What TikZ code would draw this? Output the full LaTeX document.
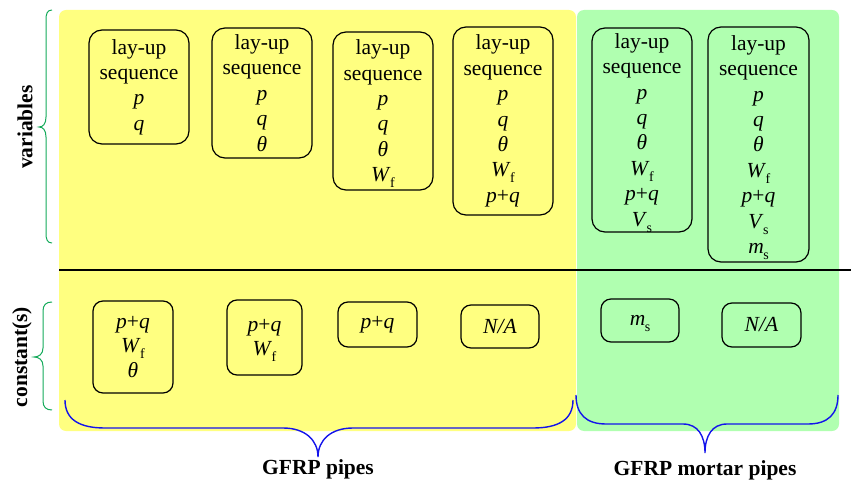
\documentclass[tikz,border=0pt]{standalone}
\usepackage{fontspec}
\setmainfont{Liberation Serif}
\definecolor{yfill}{RGB}{255,255,128}
\definecolor{gfill}{RGB}{176,255,176}
\definecolor{bracegreen}{RGB}{20,170,90}
\definecolor{braceblue}{RGB}{20,20,235}
\newcommand\sbs[2]{\textit{#1}\kern-0.5pt\raisebox{-0.28em}[\height][0pt]{\fontsize{14}{14}\selectfont #2}}
\newcommand\pq{\textit{p}+\textit{q}}
\tikzset{
  panel/.style={rounded corners=7pt, draw=none},
  varbox/.style={draw=black, line width=1.2pt, rounded corners=13pt, align=center, inner sep=0pt,
     font=\fontsize{21.5}{25.4}\selectfont, minimum width=100pt},
  conbox/.style={draw=black, line width=1.2pt, rounded corners=10pt, align=center, inner sep=0pt,
     font=\fontsize{21.5}{24.5}\selectfont},
  lbl/.style={font=\fontsize{21.5}{25}\selectfont\bfseries, inner sep=0pt},
  gbrace/.style={draw=bracegreen, line width=1pt},
  bbrace/.style={draw=braceblue, line width=1.4pt}
}
\begin{document}
\begin{tikzpicture}[x=1pt,y=-1pt]
\useasboundingbox (0,0) rectangle (851,481);
% panels
\fill[yfill, panel] (59,10) rectangle (576,431);
\fill[gfill, panel] (577,10) rectangle (839,431);
% divider
\draw[line width=2pt] (59,270) coordinate (divL) -- (851,270) coordinate (divR);
% variable boxes
\node[varbox, minimum height=114pt] (v1) at (139,87) {lay-up\\sequence\\\textit{p}\\\textit{q}};
\node[varbox, minimum height=130pt] (v2) at (262,93) {lay-up\\sequence\\\textit{p}\\\textit{q}\\\textit{θ}};
\node[varbox, minimum height=158pt] (v3) at (383,111) {lay-up\\sequence\\\textit{p}\\\textit{q}\\\textit{θ}\\\sbs{W}{f}};
\node[varbox, minimum height=188pt] (v4) at (503,121) {lay-up\\sequence\\\textit{p}\\\textit{q}\\\textit{θ}\\\sbs{W}{f}\\\pq};
\node[varbox, minimum height=204pt] (v5) at (642,130) {lay-up\\sequence\\\textit{p}\\\textit{q}\\\textit{θ}\\\sbs{W}{f}\\\pq\\\sbs{V}{s}};
\node[varbox, minimum height=235pt, minimum width=101pt] (v6) at (758.5,144.5) {lay-up\\sequence\\\textit{p}\\\textit{q}\\\textit{θ}\\\sbs{W}{f}\\\pq\\\sbs{V}{s}\\\sbs{m}{s}};
% constant boxes
\node[conbox, minimum width=80pt, minimum height=92pt] (c1) at (133,347) {\pq\\\sbs{W}{f}\\\textit{θ}};
\node[conbox, minimum width=75pt, minimum height=75pt] (c2) at (264.5,337.5) {\pq\\\sbs{W}{f}};
\node[conbox, minimum width=79pt, minimum height=45pt] (c3) at (377.5,324.5) {\pq};
\node[conbox, minimum width=78pt, minimum height=43pt] (c4) at (500,326.5) {\textit{N/A}};
\node[conbox, minimum width=78pt, minimum height=43pt] (c5) at (640,320.5) {\sbs{m}{s}};
\node[conbox, minimum width=79pt, minimum height=44pt] (c6) at (761.5,325) {\textit{N/A}};
% left braces
\draw[gbrace] (52,10) .. controls (47,10) and (46,14) .. (46,20) -- (46,117)
   .. controls (46,124) and (43,127) .. (39,127) .. controls (43,127) and (46,130) .. (46,137)
   -- (46,233) .. controls (46,239) and (47,243) .. (52,243);
\draw[gbrace] (52,302) .. controls (46,302) and (43,305) .. (43,311) -- (43,348)
   .. controls (43,354) and (39,357) .. (34,357) .. controls (39,357) and (43,360) .. (43,366)
   -- (43,401) .. controls (43,407) and (46,410) .. (52,410);
\node[lbl, rotate=90] (lvar) at (25,127) {variables};
\node[lbl, rotate=90] (lcon) at (22,357) {constant(s)};
% bottom braces
\draw[bbrace] (65,400) .. controls (65,420) and (80,428) .. (105,428) -- (283,428)
   .. controls (305,428) and (318,440) .. (318,457) .. controls (318,440) and (331,428) .. (353,428)
   -- (533,428) .. controls (558,428) and (573,420) .. (573,400);
\draw[bbrace] (576,395) .. controls (576,414) and (586,424) .. (606,424) -- (683,424)
   .. controls (698,424) and (705,436) .. (705,453) .. controls (705,436) and (712,424) .. (727,424)
   -- (808,424) .. controls (828,424) and (838,414) .. (838,395);
\node[lbl] (lgp) at (318,469) {GFRP pipes};
\node[lbl] (lgm) at (705,470) {GFRP mortar pipes};
\end{tikzpicture}
\end{document}
